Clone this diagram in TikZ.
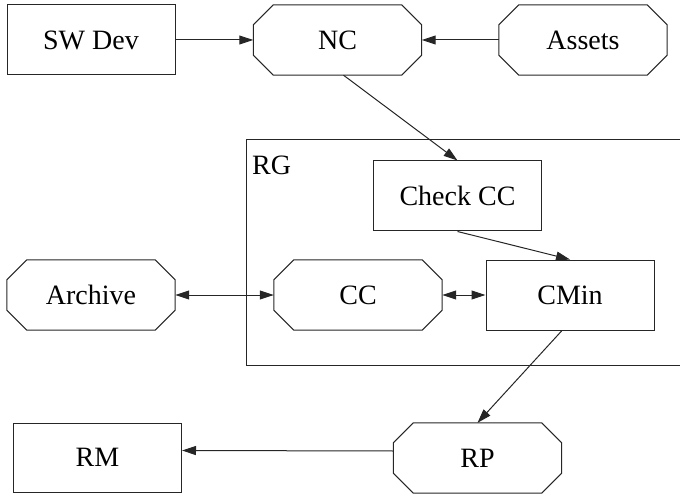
\documentclass[tikz,border=0pt]{standalone}
\usepackage{fontspec}
\setmainfont{Liberation Serif}
\usetikzlibrary{arrows.meta}

% octagon outline drawn around a (borderless) node
\newcommand\octoframe[1]{%
  \draw[frame] ([xshift=20pt]#1.north west) -- ([xshift=-20pt]#1.north east)
    -- ([yshift=-20pt]#1.north east) -- ([yshift=20pt]#1.south east)
    -- ([xshift=-20pt]#1.south east) -- ([xshift=20pt]#1.south west)
    -- ([yshift=20pt]#1.south west) -- ([yshift=-20pt]#1.north west) -- cycle;}

\tikzset{
  frame/.style={draw=black!85, line width=1pt},
  lbl/.style={inner sep=0pt, minimum width=168pt, minimum height=70pt,
              font=\fontsize{28}{34}\selectfont},
  boxnode/.style={lbl, frame},
  octnode/.style={lbl},
  link/.style={line width=1pt, draw=black!85, >={Triangle[length=14pt,width=9pt]}},
}

\begin{document}
\begin{tikzpicture}[x=1pt, y=-1pt]
\useasboundingbox (0,0) rectangle (680,497);

% cluster frame (runs off the right margin)
\draw[frame] (246,140) -- (690,140) (690,365) -- (246,365) -- (246,140);
\node[anchor=base west, inner sep=0pt, font=\fontsize{28}{34}\selectfont] (rg) at (252,175) {RG};

% nodes
\node[boxnode] (swdev) at (91,40) {SW Dev};
\node[octnode] (nc) at (337.5,40) {NC};
\node[octnode] (assets) at (583,40) {Assets};
\node[boxnode] (chk) at (457.5,196) {Check CC};
\node[octnode] (archive) at (91,295) {Archive};
\node[octnode] (cc) at (358,295) {CC};
\node[boxnode] (cmin) at (570,295) {CMin};
\node[boxnode, minimum height=69pt] (rm) at (97.5,457.5) {RM};
\node[octnode] (rp) at (477.5,458) {RP};

\octoframe{nc}
\octoframe{assets}
\octoframe{archive}
\octoframe{cc}
\octoframe{rp}

% connectors
\draw[link,->] (swdev.east) -- (nc.west);
\draw[link,->] (assets.west) -- (nc.east);
\draw[link,->] ([xshift=6pt]nc.south) -- (chk.north);
\draw[link,->] (chk.south) -- (cmin.north);
\draw[link,<->] (archive.east) -- (cc.west);
\draw[link,<->] (cc.east) -- (cmin.west);
\draw[link,->] ([xshift=-8pt]cmin.south) -- (rp.north);
\draw[link,->] ([yshift=7pt]rp.west) -- ([yshift=7pt]rm.east);
\end{tikzpicture}
\end{document}
